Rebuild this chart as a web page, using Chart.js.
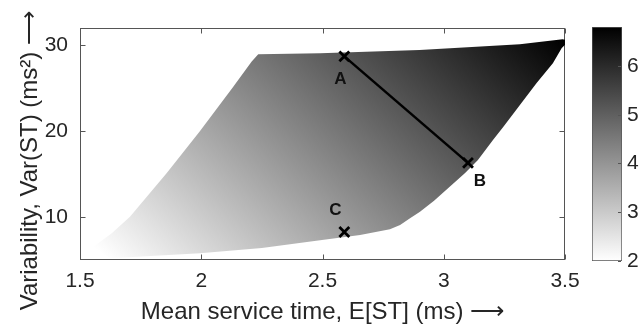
<!DOCTYPE html>
<html>
<head>
<meta charset="utf-8">
<script src="https://cdn.jsdelivr.net/npm/chart.js@4.4.1/dist/chart.umd.min.js"></script>
<style>
html, body { margin: 0; padding: 0; background: #fff; }
#wrap { position: relative; width: 642px; height: 331px; }
#wrap canvas { position: absolute; left: 0; top: 0; }
</style>
</head>
<body>
<div id="wrap">
  <canvas id="main" width="642" height="331"></canvas>
  <canvas id="cbar" width="642" height="331"></canvas>
</div>
<script>
// outline of the shaded region (closed polygon)
const regionX = [1.555, 1.631, 1.706, 1.857, 1.995, 2.132, 2.208, 2.235,
  2.49, 2.90, 3.314, 3.49, 3.516,
  3.486, 3.45, 3.383, 3.246, 3.203, 3.141, 3.088, 2.96, 2.902, 2.861, 2.82, 2.778,
  2.655, 2.49, 2.25, 1.995, 1.624, 1.555];
const regionY = [6.55, 8.1, 10.04, 15.09, 20.02, 25.17, 28.09, 28.94,
  29.06, 29.45, 30.11, 30.7, 30.5,
  29.64, 27.9, 25.6, 20.52, 18.97, 16.64, 15.13, 11.9, 10.62, 9.85, 9.07, 8.57,
  7.91, 7.3, 6.4, 5.78, 5.2, 6.55];

// marked points
const pointNames = ['A', 'B', 'C'];
const pointX = [2.59, 3.10, 2.59];
const pointY = [28.7, 16.3, 8.26];

// axes
const xTicks = [1.5, 2, 2.5, 3, 3.5];
const yTicks = [10, 20, 30];
const xRange = [1.5, 3.5];
const yRange = [5, 32];

// colour bar
const cbTicks = [2, 3, 4, 5, 6];
const cbRange = [2, 6.8];

// shading: value at the lower-left tip and change per unit of x / y
const shadeRef = [1.555, 6.55];
const shadeSlope = [1.654, 0.0662];

const fontFamily = '"Liberation Sans", Arial, Helvetica, sans-serif';
const textColor = '#262626';
const boxColor = '#555';

Chart.defaults.font.family = fontFamily;
Chart.defaults.color = textColor;

function regionFill(context) {
  const chart = context.chart;
  const {ctx, chartArea, scales} = chart;
  if (!chartArea) return 'rgba(0,0,0,0)';
  const sx = scales.x.getPixelForValue(1) - scales.x.getPixelForValue(0);
  const sy = scales.y.getPixelForValue(1) - scales.y.getPixelForValue(0);
  const gx = shadeSlope[0] / sx, gy = shadeSlope[1] / sy;
  const g2 = gx * gx + gy * gy;
  const span = (cbRange[1] - cbRange[0]) / g2;
  const x0 = scales.x.getPixelForValue(shadeRef[0]);
  const y0 = scales.y.getPixelForValue(shadeRef[1]);
  const grad = ctx.createLinearGradient(x0, y0, x0 + gx * span, y0 + gy * span);
  grad.addColorStop(0, '#ffffff');
  grad.addColorStop(1, '#000000');
  return grad;
}

function barFill(context) {
  const chart = context.chart;
  const {ctx, chartArea, scales} = chart;
  if (!chartArea) return 'rgba(0,0,0,0)';
  const grad = ctx.createLinearGradient(0, scales.y.getPixelForValue(cbRange[0]), 0, scales.y.getPixelForValue(cbRange[1]));
  grad.addColorStop(0, '#ffffff');
  grad.addColorStop(1, '#000000');
  return grad;
}

// box round the plot with inward ticks, matlab style
const boxPlugin = {
  id: 'box',
  beforeDatasetsDraw(chart, args, opts) {
    const {ctx, chartArea: a, scales} = chart;
    const L = Math.round(a.left) + 0.5, R = Math.round(a.right) - 0.5;
    const T = Math.round(a.top) + 0.5, B = Math.round(a.bottom) - 0.5;
    ctx.save();
    ctx.strokeStyle = opts.color;
    ctx.lineWidth = 1;
    ctx.strokeRect(L, T, R - L, B - T);
    ctx.beginPath();
    scales.x.ticks.forEach(t => {
      const p = Math.round(scales.x.getPixelForValue(t.value)) + 0.5;
      ctx.moveTo(p, B); ctx.lineTo(p, B - opts.len);
      ctx.moveTo(p, T); ctx.lineTo(p, T + opts.len);
    });
    scales.y.ticks.forEach(t => {
      const p = Math.round(scales.y.getPixelForValue(t.value)) + 0.5;
      ctx.moveTo(L, p); ctx.lineTo(L + opts.len, p);
      ctx.moveTo(R, p); ctx.lineTo(R - opts.len, p);
    });
    ctx.stroke();
    ctx.restore();
  }
};

const labelPlugin = {
  id: 'ptLabels',
  afterDatasetsDraw(chart, args, opts) {
    const {ctx, scales: {x, y}} = chart;
    ctx.save();
    ctx.font = opts.font;
    ctx.fillStyle = opts.color;
    ctx.textAlign = 'center';
    ctx.textBaseline = 'middle';
    pointNames.forEach((n, i) => {
      const o = opts.offsets[i];
      ctx.fillText(n, x.getPixelForValue(pointX[i]) + o[0], y.getPixelForValue(pointY[i]) + o[1]);
    });
    ctx.restore();
  }
};

const cbTickPlugin = {
  id: 'cbTicks',
  afterDatasetsDraw(chart, args, opts) {
    const {ctx, chartArea: a, scales} = chart;
    ctx.save();
    ctx.strokeStyle = opts.color;
    ctx.lineWidth = 1;
    ctx.beginPath();
    scales.y.ticks.forEach(t => {
      const p = Math.round(scales.y.getPixelForValue(t.value)) + 0.5;
      ctx.moveTo(a.right - 1, p); ctx.lineTo(a.right - 1 - opts.len, p);
    });
    ctx.stroke();
    ctx.restore();
  }
};

const tickFont = {size: 21, family: fontFamily};
const titleFont = {size: 24, family: fontFamily};
const plainNumber = v => String(Number(v));

new Chart(document.getElementById('main'), {
  type: 'scatter',
  data: {
    datasets: [
      {
        label: 'points',
        data: pointX.map((x, i) => ({x: x, y: pointY[i]})),
        pointStyle: 'crossRot',
        pointRadius: 7,
        pointBorderWidth: 2.8,
        pointBorderColor: '#000',
        pointBackgroundColor: '#000',
        order: 1
      },
      {
        label: 'AB',
        data: [0, 1].map(i => ({x: pointX[i], y: pointY[i]})),
        showLine: true,
        borderColor: '#000',
        borderWidth: 2.5,
        pointRadius: 0,
        order: 2
      },
      {
        label: 'region',
        data: regionX.map((x, i) => ({x: x, y: regionY[i]})),
        showLine: true,
        fill: 'shape',
        backgroundColor: regionFill,
        borderColor: 'rgba(0,0,0,0)',
        borderWidth: 0,
        pointRadius: 0,
        clip: false,
        order: 3
      }
    ]
  },
  options: {
    responsive: false,
    animation: false,
    devicePixelRatio: 1,
    layout: {padding: {left: 0, right: 77, top: 28, bottom: 0}},
    plugins: {
      legend: {display: false},
      tooltip: {enabled: false},
      box: {color: boxColor, len: 5},
      ptLabels: {font: 'bold 17px ' + fontFamily, color: '#111', offsets: [[-4, 23], [12, 18], [-9, -22]]}
    },
    scales: {
      x: {
        type: 'linear',
        min: xRange[0], max: xRange[1],
        afterBuildTicks: s => { s.ticks = xTicks.map(v => ({value: v})); },
        afterFit: s => { s.height = 71; },
        grid: {display: false, drawTicks: false},
        border: {display: false},
        ticks: {font: tickFont, color: textColor, padding: 9, maxRotation: 0, callback: plainNumber},
        title: {display: true, text: 'Mean service time, E[ST] (ms) \u27F6', font: titleFont, color: textColor, padding: {top: 0, bottom: 4}}
      },
      y: {
        type: 'linear',
        min: yRange[0], max: yRange[1],
        afterBuildTicks: s => { s.ticks = yTicks.map(v => ({value: v})); },
        afterFit: s => { s.width = 80; },
        grid: {display: false, drawTicks: false},
        border: {display: false},
        ticks: {font: tickFont, color: textColor, padding: 12, callback: plainNumber},
        title: {display: true, text: 'Variability, Var(ST) (ms\u00B2) \u27F6     ', font: titleFont, color: textColor, padding: {top: 16, bottom: 0}}
      }
    }
  },
  plugins: [boxPlugin, labelPlugin]
});

new Chart(document.getElementById('cbar'), {
  type: 'bar',
  data: {
    labels: ['value'],
    datasets: [{
      data: [cbRange],
      backgroundColor: barFill,
      borderColor: boxColor,
      borderWidth: 1,
      borderSkipped: false,
      barPercentage: 1,
      categoryPercentage: 1
    }]
  },
  options: {
    responsive: false,
    animation: false,
    devicePixelRatio: 1,
    layout: {padding: {left: 592, right: 0, top: 27, bottom: 70}},
    plugins: {
      legend: {display: false},
      tooltip: {enabled: false},
      cbTicks: {color: boxColor, len: 3}
    },
    scales: {
      x: {display: false},
      y: {
        position: 'right',
        min: cbRange[0], max: cbRange[1],
        afterBuildTicks: s => { s.ticks = cbTicks.map(v => ({value: v})); },
        afterFit: s => { s.width = 20; },
        grid: {display: false, drawTicks: false},
        border: {display: false},
        ticks: {font: tickFont, color: textColor, padding: 5, callback: plainNumber}
      }
    }
  },
  plugins: [cbTickPlugin]
});
</script>
</body>
</html>
